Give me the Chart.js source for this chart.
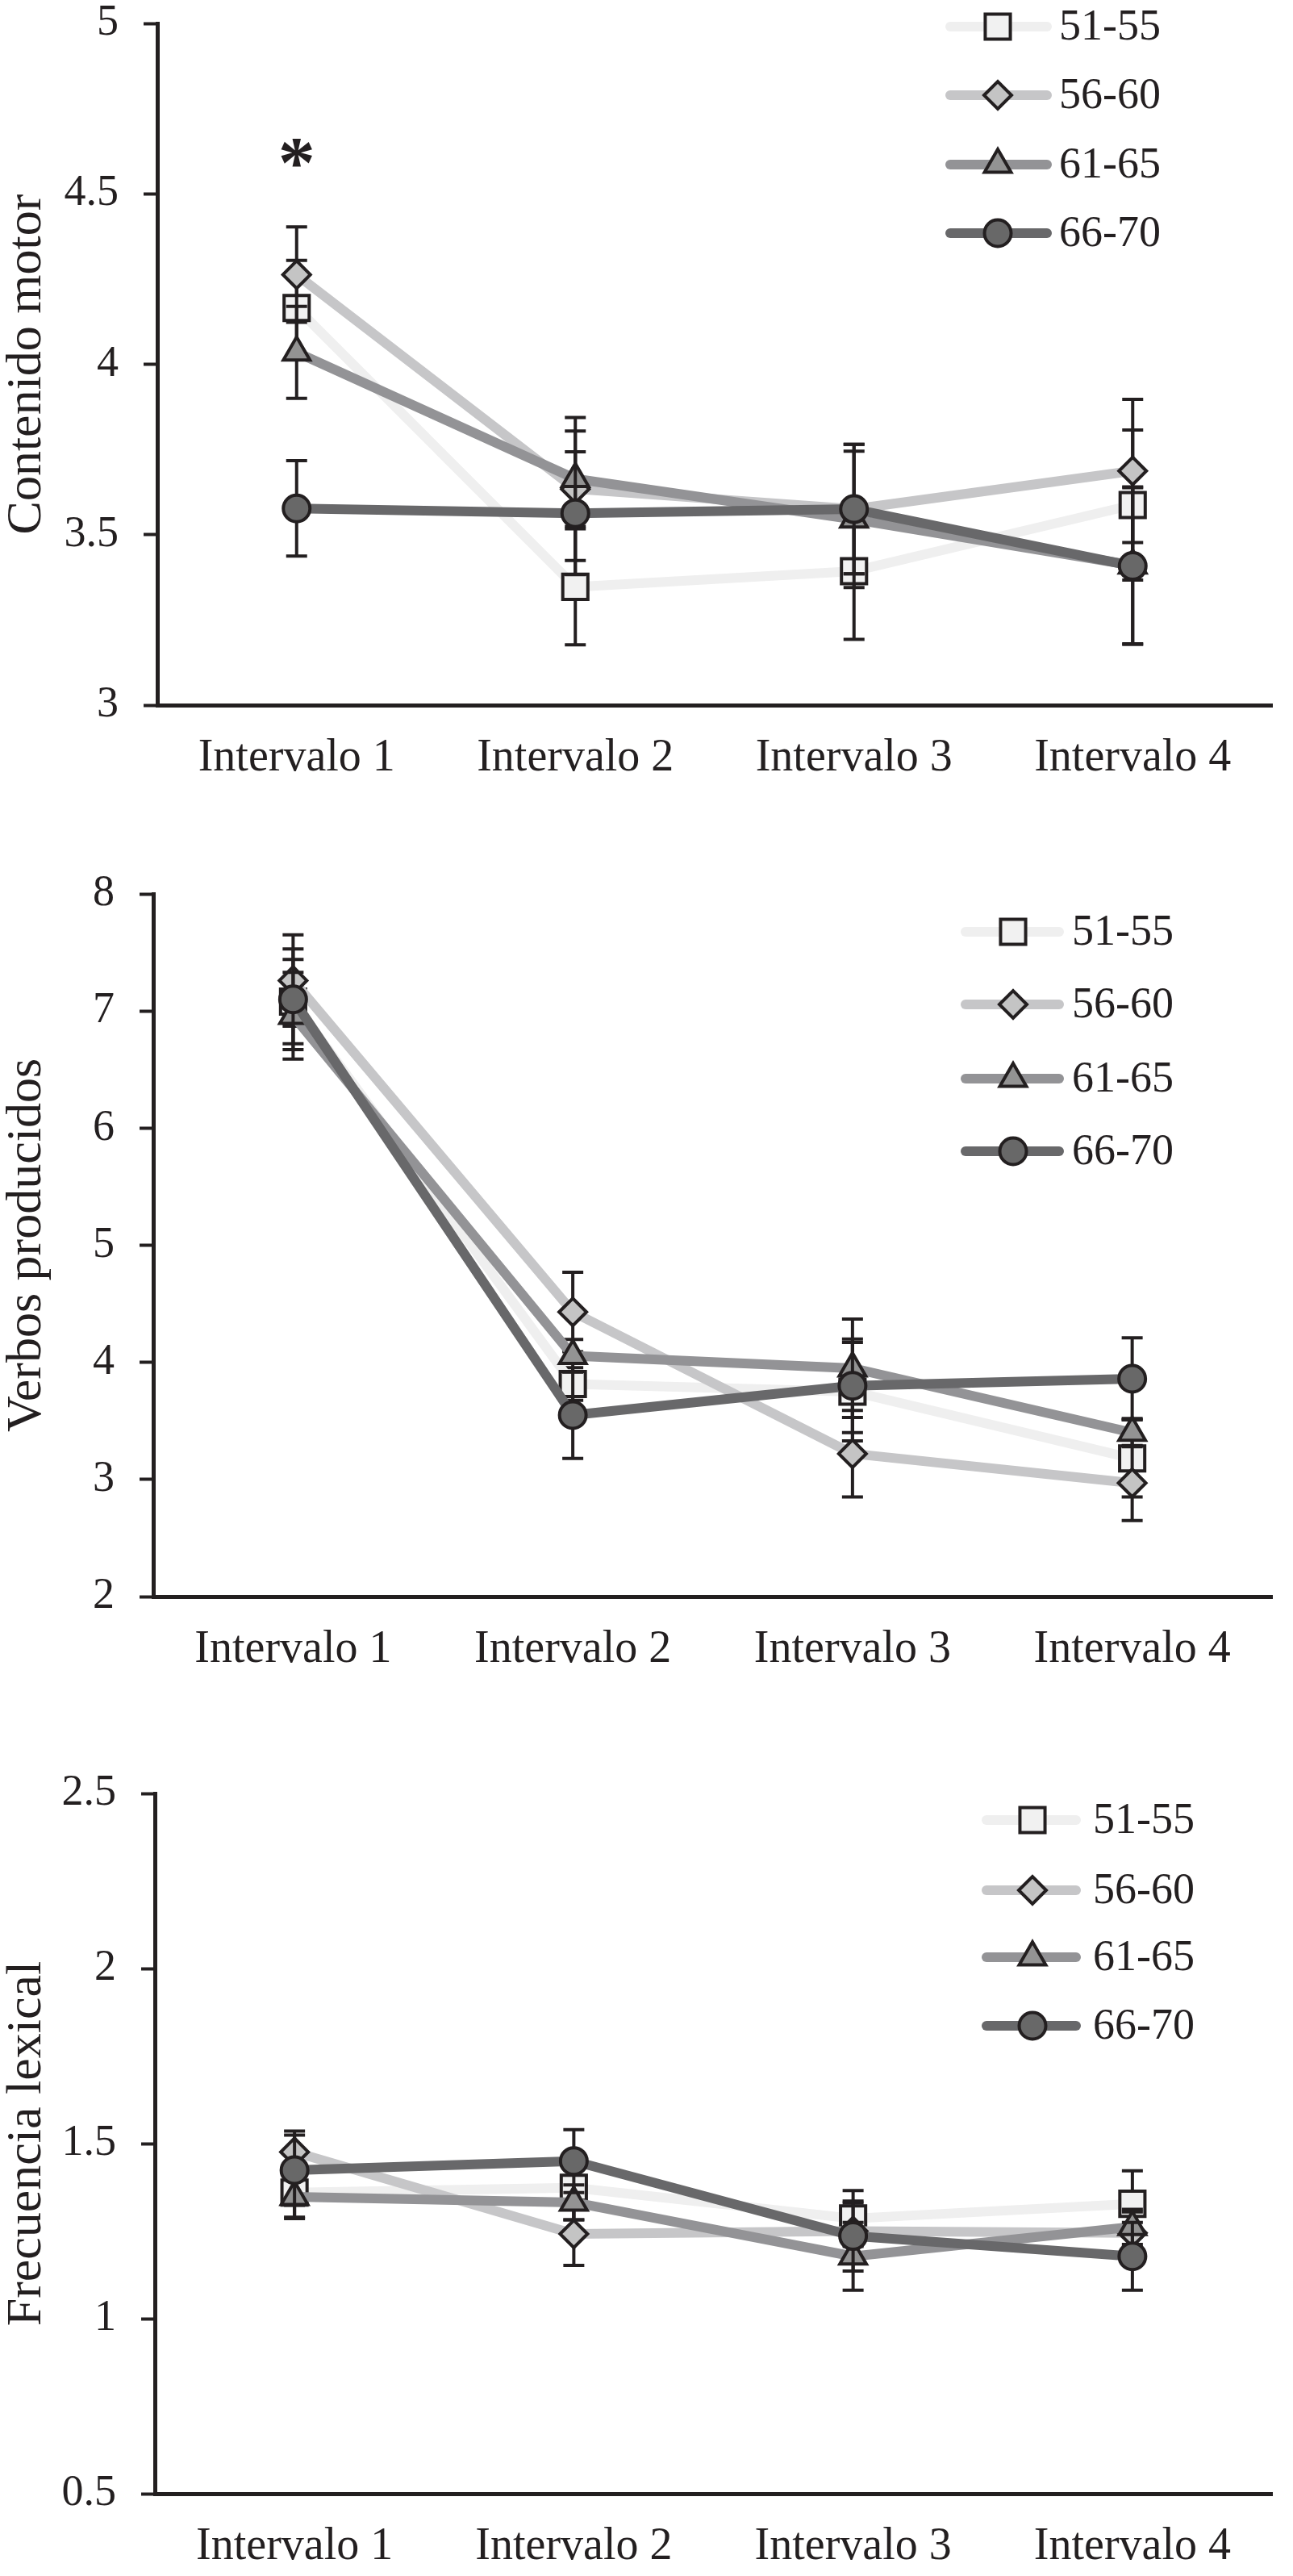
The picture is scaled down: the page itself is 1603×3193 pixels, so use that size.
<!DOCTYPE html>
<html>

<head>
    <title>Intervalos por grupo de edad</title>
    <script src="https://cdn.jsdelivr.net/npm/chart.js"></script>
    <style>
        html, body { margin: 0; background: #fff; }
        body { position: relative; width: 1603px; height: 3193px; }
        canvas { position: absolute; left: 0; }
    </style>
</head>

<body>
    <canvas id="motorChart" width="1603" height="1040" style="top:0px"></canvas>
    <canvas id="verbosChart" width="1603" height="1080" style="top:1040px"></canvas>
    <canvas id="frecuenciaChart" width="1603" height="1073" style="top:2120px"></canvas>

    <script>
        const intervalos = ['Intervalo 1', 'Intervalo 2', 'Intervalo 3', 'Intervalo 4'];
        const grupos = ['51-55', '56-60', '61-65', '66-70'];

        // Contenido motor
        const motor51 = [4.165, 3.347, 3.393, 3.587];
        const motor56 = [4.263, 3.634, 3.575, 3.687];
        const motor61 = [4.035, 3.664, 3.545, 3.41];
        const motor66 = [3.577, 3.563, 3.575, 3.408];
        const motorErr51 = [0.14, 0.17, 0.20, 0.22];
        const motorErr56 = [0.14, 0.21, 0.19, 0.21];
        const motorErr61 = [0.135, 0.14, 0.20, 0.23];
        const motorErr66 = [0.14, 0.18, 0.19, 0.23];
        const motorTicks = [3, 3.5, 4, 4.5, 5];
        const motorTickLabels = ['3', '3.5', '4', '4.5', '5'];
        const motorAsterisco = ['*', '', '', ''];
        const motorAsteriscoValor = [4.62, null, null, null];

        // Verbos producidos
        const verbos51 = [7.08, 3.815, 3.75, 3.18];
        const verbos56 = [7.26, 4.43, 3.22, 2.97];
        const verbos61 = [6.96, 4.056, 3.95, 3.40];
        const verbos66 = [7.10, 3.55, 3.80, 3.86];
        const verbosErr51 = [0.36, 0.14, 0.42, 0.33];
        const verbosErr56 = [0.39, 0.34, 0.37, 0.32];
        const verbosErr61 = [0.37, 0.14, 0.42, 0.12];
        const verbosErr66 = [0.43, 0.37, 0.40, 0.35];
        const verbosTicks = [2, 3, 4, 5, 6, 7, 8];
        const verbosTickLabels = ['2', '3', '4', '5', '6', '7', '8'];

        // Frecuencia lexical
        const frec51 = [1.36, 1.374, 1.286, 1.328];
        const frec56 = [1.476, 1.242, 1.25, 1.245];
        const frec61 = [1.348, 1.332, 1.178, 1.262];
        const frec66 = [1.424, 1.45, 1.236, 1.178];
        const frecErr51 = [0.07, 0.092, 0.08, 0.094];
        const frecErr56 = [0.06, 0.09, 0.08, 0.06];
        const frecErr61 = [0.062, 0.05, 0.097, 0.05];
        const frecErr66 = [0.10, 0.09, 0.10, 0.097];
        const frecTicks = [0.5, 1, 1.5, 2, 2.5];
        const frecTickLabels = ['0.5', '1', '1.5', '2', '2.5'];

        const ink = '#231f20';
        const serif = 'Liberation Serif';

        const estilos = [
            { borderColor: '#efefef', pointBackgroundColor: '#f1f1f1', pointStyle: 'rect', pointRadius: 22 },
            { borderColor: '#c6c6c8', pointBackgroundColor: '#c4c4c4', pointStyle: 'rectRot', pointRadius: 17 },
            { borderColor: '#939396', pointBackgroundColor: '#939393', pointStyle: 'triangle', pointRadius: 19 },
            { borderColor: '#68686a', pointBackgroundColor: '#686868', pointStyle: 'circle', pointRadius: 16.5 }
        ];

        // same shapes as chart.js uses, for the legend samples
        function drawMarker(ctx, style, x, y) {
            const r = style.pointRadius;
            ctx.beginPath();
            if (style.pointStyle === 'rect') {
                const s = r * Math.SQRT1_2;
                ctx.rect(x - s, y - s, 2 * s, 2 * s);
            } else if (style.pointStyle === 'rectRot') {
                ctx.moveTo(x - r, y); ctx.lineTo(x, y - r); ctx.lineTo(x + r, y); ctx.lineTo(x, y + r);
                ctx.closePath();
            } else if (style.pointStyle === 'triangle') {
                ctx.moveTo(x, y - r);
                ctx.lineTo(x + r * Math.cos(Math.PI / 6), y + r / 2);
                ctx.lineTo(x - r * Math.cos(Math.PI / 6), y + r / 2);
                ctx.closePath();
            } else {
                ctx.arc(x, y, r, 0, Math.PI * 2);
            }
            ctx.fillStyle = style.pointBackgroundColor;
            ctx.strokeStyle = ink;
            ctx.lineWidth = 4;
            ctx.fill();
            ctx.stroke();
        }

        const errorBars = {
            id: 'errorBars',
            beforeDatasetDraw(chart, args) {
                const ds = chart.data.datasets[args.index];
                if (!ds.errors) return;
                const y = chart.scales.y, ctx = chart.ctx;
                ctx.save();
                ctx.strokeStyle = ink;
                ctx.lineWidth = 4;
                args.meta.data.forEach((pt, i) => {
                    const top = y.getPixelForValue(ds.data[i] + ds.errors[i]);
                    const bot = y.getPixelForValue(ds.data[i] - ds.errors[i]);
                    ctx.beginPath();
                    ctx.moveTo(pt.x, top); ctx.lineTo(pt.x, bot);
                    ctx.moveTo(pt.x - 13, top); ctx.lineTo(pt.x + 13, top);
                    ctx.moveTo(pt.x - 13, bot); ctx.lineTo(pt.x + 13, bot);
                    ctx.stroke();
                });
                ctx.restore();
            }
        };

        const sampleLegend = {
            id: 'sampleLegend',
            afterDatasetsDraw(chart, args, opts) {
                const ctx = chart.ctx;
                chart.data.datasets.forEach((ds, i) => {
                    const yy = opts.rows[i];
                    ctx.save();
                    ctx.strokeStyle = ds.borderColor;
                    ctx.lineWidth = 12;
                    ctx.lineCap = 'round';
                    ctx.beginPath();
                    ctx.moveTo(opts.left, yy);
                    ctx.lineTo(opts.right, yy);
                    ctx.stroke();
                    drawMarker(ctx, estilos[i], opts.marker, yy);
                    ctx.fillStyle = ink;
                    ctx.font = '54px "' + serif + '"';
                    ctx.textAlign = 'left';
                    ctx.textBaseline = 'middle';
                    ctx.fillText(ds.label, opts.text, yy + 2);
                    ctx.restore();
                });
            }
        };

        const starMarks = {
            id: 'starMarks',
            afterDatasetsDraw(chart, args, opts) {
                if (!opts.labels) return;
                const ctx = chart.ctx, x = chart.scales.x, y = chart.scales.y;
                ctx.save();
                ctx.font = 'bold 92px "' + serif + '"';
                ctx.fillStyle = ink;
                ctx.textAlign = 'center';
                ctx.textBaseline = 'alphabetic';
                opts.labels.forEach((s, i) => {
                    if (!s) return;
                    const m = ctx.measureText(s);
                    const cy = y.getPixelForValue(opts.values[i]);
                    ctx.fillText(s, x.getPixelForValue(i), cy + (m.actualBoundingBoxAscent - m.actualBoundingBoxDescent) / 2);
                });
                ctx.restore();
            }
        };

        function buildPanel(id, cfg) {
            const datasets = cfg.series.map((values, i) => Object.assign({
                label: grupos[i],
                data: values,
                errors: cfg.errors[i],
                order: 4 - i,
                borderWidth: 12,
                borderJoinStyle: 'round',
                tension: 0,
                pointBorderColor: ink,
                pointBorderWidth: 4,
                pointHoverRadius: estilos[i].pointRadius
            }, estilos[i]));

            const chart = new Chart(document.getElementById(id), {
                type: 'line',
                data: { labels: intervalos, datasets },
                plugins: [errorBars, sampleLegend, starMarks],
                options: {
                    responsive: false,
                    animation: false,
                    devicePixelRatio: 1,
                    events: [],
                    layout: { padding: { top: cfg.areaTop, right: 0, bottom: 0, left: 0 } },
                    plugins: {
                        legend: { display: false },
                        tooltip: { enabled: false },
                        sampleLegend: cfg.legend,
                        starMarks: cfg.stars || {}
                    },
                    scales: {
                        x: {
                            offset: true,
                            grid: { display: false, drawTicks: false },
                            border: { color: ink, width: 5 },
                            ticks: { color: ink, font: { family: serif, size: 56 }, padding: 33, maxRotation: 0 },
                            afterFit: s => { s.height = cfg.xHeight; s.paddingLeft = 0; s.paddingRight = 0; }
                        },
                        y: {
                            min: cfg.ticks[0],
                            max: cfg.ticks[cfg.ticks.length - 1],
                            afterBuildTicks: s => { s.ticks = cfg.ticks.map(v => ({ value: v })); },
                            grid: { drawOnChartArea: false, color: ink, tickLength: 17, tickWidth: 4 },
                            border: { color: ink, width: 5 },
                            ticks: {
                                color: ink, font: { family: serif, size: 54, lineHeight: 1 }, padding: 31,
                                callback: (v, i) => cfg.tickLabels[i]
                            },
                            title: {
                                display: true, text: cfg.title, color: ink,
                                font: { family: serif, size: 62, lineHeight: 1.1 }, padding: 0
                            },
                            afterFit: s => { s.width = cfg.yWidth; s.paddingTop = 0; s.paddingBottom = 0; }
                        }
                    }
                }
            });

            // nudge the plot area onto the reference frame
            const dTop = cfg.areaTop - chart.chartArea.top;
            const dBottom = cfg.areaBottom - chart.chartArea.bottom;
            if (Math.abs(dTop) > 0.5 || Math.abs(dBottom) > 0.5) {
                chart.options.layout.padding.top += dTop;
                cfg.xHeight -= dBottom;
                chart.update();
            }
        }

        buildPanel('motorChart', {
            series: [motor51, motor56, motor61, motor66],
            errors: [motorErr51, motorErr56, motorErr61, motorErr66],
            ticks: motorTicks, tickLabels: motorTickLabels,
            title: 'Contenido motor',
            areaTop: 29, areaBottom: 874, xHeight: 166, yWidth: 195,
            legend: { left: 1178, right: 1298, marker: 1237, text: 1313, rows: [33, 118, 204, 289] },
            stars: { labels: motorAsterisco, values: motorAsteriscoValor }
        });

        buildPanel('verbosChart', {
            series: [verbos51, verbos56, verbos61, verbos66],
            errors: [verbosErr51, verbosErr56, verbosErr61, verbosErr66],
            ticks: verbosTicks, tickLabels: verbosTickLabels,
            title: 'Verbos producidos',
            areaTop: 68, areaBottom: 939, xHeight: 141, yWidth: 190,
            legend: { left: 1197, right: 1313, marker: 1256, text: 1329, rows: [115, 205, 297, 387] }
        });

        buildPanel('frecuenciaChart', {
            series: [frec51, frec56, frec61, frec66],
            errors: [frecErr51, frecErr56, frecErr61, frecErr66],
            ticks: frecTicks, tickLabels: frecTickLabels,
            title: 'Frecuencia lexical',
            areaTop: 103, areaBottom: 971, xHeight: 102, yWidth: 192,
            legend: { left: 1223, right: 1334, marker: 1280, text: 1355, rows: [136, 223, 306, 391] }
        });
    </script>
</body>

</html>
